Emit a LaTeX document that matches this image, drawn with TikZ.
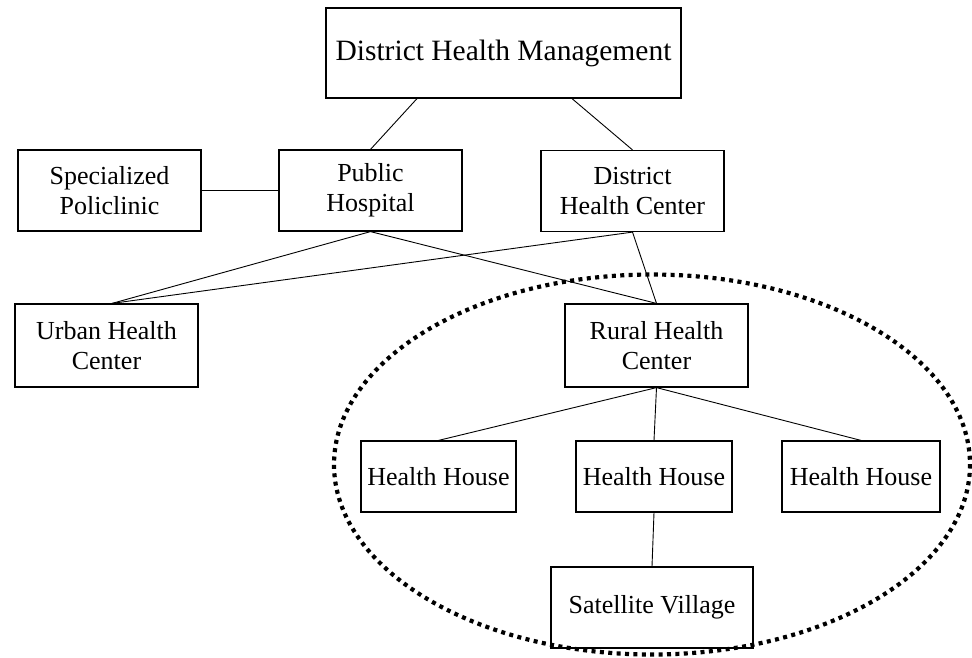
\documentclass[tikz,border=0pt]{standalone}
\usepackage{fontspec}
\setmainfont{Liberation Serif}
\usetikzlibrary{calc}

\begin{document}
\begin{tikzpicture}[x=1pt,y=-1pt,
        unit/.style={
        draw=black, line width=1.2pt,
        rectangle,inner sep=0pt,align=center,
        font=\fontsize{26}{30}\selectfont},
        link/.style={draw=black, line width=0.9pt}]
        \useasboundingbox (0,0) rectangle (972,657);
        %rural area
        \draw[line width=4.2pt, dash pattern=on 4pt off 4.4pt]
            (652,464.5) ellipse [x radius=318, y radius=190];
        %boxes
        \node (dhm) at (503.5,53) [unit, minimum width=355pt, minimum height=90pt,
            font=\fontsize{29.5}{34}\selectfont] {District Health Management};
        \node (sp) at (109.5,190.5) [unit, minimum width=183pt, minimum height=81pt]
            {Specialized\\Policlinic};
        \node (ph) at (370.5,190.5) [unit, minimum width=183pt, minimum height=81pt]
            {Public\\Hospital};
        \node (dhc) at (632.5,191) [unit, minimum width=183pt, minimum height=81pt]
            {District\\Health Center};
        \node (uhc) at (106.5,345.5) [unit, minimum width=183pt, minimum height=83pt]
            {Urban Health\\Center};
        \node (rhc) at (656.5,345.5) [unit, minimum width=183pt, minimum height=83pt]
            {Rural Health\\Center};
        \node (hh1) at (438.5,476.5) [unit, minimum width=155pt, minimum height=71pt]
            {Health House};
        \node (hh2) at (654,476.5) [unit, minimum width=156pt, minimum height=71pt]
            {Health House};
        \node (hh3) at (861,476.5) [unit, minimum width=158pt, minimum height=71pt]
            {Health House};
        \node (sv) at (652,607.5) [unit, minimum width=202pt, minimum height=81pt]
            {Satellite Village};
        %lines
        \draw[link] ($(dhm.south)+(-86.5,0)$) -- (ph.north);
        \draw[link] ($(dhm.south)+(68.5,0)$) -- (dhc.north);
        \draw[link] (sp.east) -- (ph.west);
        \draw[link] (ph.south) -- ($(uhc.north)+(5.5,0)$);
        \draw[link] (ph.south) -- (rhc.north);
        \draw[link] (dhc.south) -- ($(uhc.north)+(5.5,0)$);
        \draw[link] (dhc.south) -- (rhc.north);
        \foreach \hh in {hh1,hh2,hh3}
        \draw[link] (rhc.south) -- (\hh.north);
        \draw[link] (hh2.south) -- (sv.north);
    \end{tikzpicture}
\end{document}
